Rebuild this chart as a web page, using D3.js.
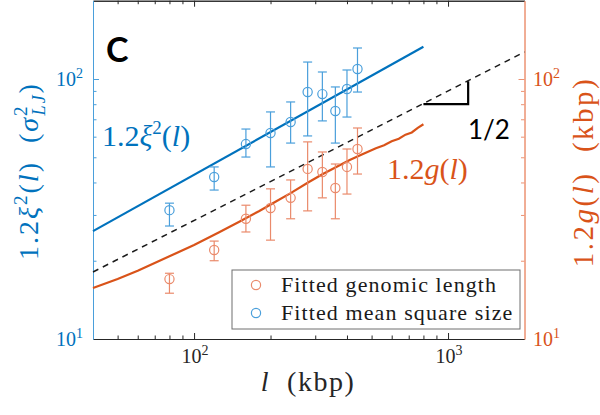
<!DOCTYPE html>
<html>
<head>
<meta charset="utf-8">
<script src="https://cdn.jsdelivr.net/npm/d3@7"></script>
<style>
  body { margin: 0; background: #fff; }
  text { white-space: pre; }
</style>
</head>
<body>
<script>
// variables:
var w = 600
var h = 415
var left = 93
var right = 524.5
var bottom = 339
var decadeY = 260

var blue = '#0072bd'
var orange = '#d95319'
var blueLight = '#4a9fdb'
var orangeLight = '#ea8a6b'
var serif = '"Liberation Serif"'
var sans = '"Lato"'

// data
var lengths = [80, 120, 160, 200, 240, 280, 320, 360, 400, 440]
var xiMean = [31.3, 42.0, 56.2, 62.0, 68.3, 89.1, 87.5, 75.3, 91.5, 109.3]
var xiLow = [27.2, 37.4, 50.1, 45.9, 56.7, 60.4, 69.0, 56.7, 71.4, 89.1]
var xiHigh = [33.3, 45.9, 64.2, 74.7, 81.6, 116.2, 106.4, 93.2, 108.3, 131.6]
var gMean = [17.0, 22.0, 29.0, 31.9, 34.9, 45.1, 43.9, 38.1, 45.9, 53.8]
var gLow = [15.0, 20.0, 25.8, 24.0, 29.0, 31.1, 34.9, 29.0, 36.1, 43.1]
var gHigh = [17.9, 23.8, 32.7, 37.8, 40.9, 57.3, 52.4, 47.1, 53.8, 64.8]

// fitted xi^2 line
var xiFitL = [40, 800]
var xiFitV = [26, 133]

// simulated g(l) curve
var gCurveL = [40, 50, 60, 80, 100, 125, 150, 180, 210, 240, 280, 320, 360, 410, 460, 520, 560, 600, 640, 680, 720, 760, 800]
var gCurveV = [15.7, 17.0, 18.3, 20.8, 23.0, 25.7, 28.2, 31.0, 33.8, 36.4, 39.9, 43.0, 45.7, 48.8, 51.4, 54.2, 55.6, 57.6, 58.9, 61.1, 62.3, 64.9, 67.0]

// slope 1/2 guide
var guideL = [40, 2000]
var guideV = [18.1, 127]
var triangle = [[800, 80], [1200, 80], [1200, 98]]

// ticks
var xMajor = [100, 1000]
var xMinor = [50, 60, 70, 80, 90, 200, 300, 400, 500, 600, 700, 800, 900]
var yMajor = [10, 100]
var yMinor = [20, 30, 40, 50, 60, 70, 80, 90]

var legendLabels = ['Fitted genomic length', 'Fitted mean square size']

var svg = d3.select('body')
  .append('svg')
  .attr('width', w)
  .attr('height', h)

var xScale = d3.scaleLog()
  .domain([40, 2000])
  .range([left, right])

var yScale = d3.scaleLog()
  .domain([10, 200])
  .range([bottom, bottom - decadeY * Math.log10(20)])

var plotTop = yScale.range()[1]

// helper: draw an inward axis with major + minor ticks
function drawAxis (axisFn, scale, pos, color, isX) {
  var majors = (isX ? xMajor : yMajor).filter(function (v) {
    return v > scale.domain()[0] && v < scale.domain()[1]
  })
  var g = svg.append('g')
    .attr('transform', isX ? 'translate(0,' + pos + ')' : 'translate(' + pos + ',0)')
  g.append('g').call(axisFn(scale).tickValues(majors).tickSizeInner(-6).tickSizeOuter(0).tickFormat(''))
  g.append('g').call(axisFn(scale).tickValues(isX ? xMinor : yMinor).tickSizeInner(-3.5).tickSizeOuter(0).tickFormat(''))
  g.selectAll('path, line').attr('stroke', color).attr('stroke-width', 1)
  return g
}

drawAxis(d3.axisBottom, xScale, bottom, '#262626', true)
drawAxis(d3.axisTop, xScale, plotTop, '#262626', true)
drawAxis(d3.axisLeft, yScale, left, '#4a9fdb', false)
drawAxis(d3.axisRight, yScale, right, '#ec9272', false)

// tick labels 10^n
function powLabel (sel, v, fs) {
  sel.append('tspan').text('10')
  sel.append('tspan').text(Math.round(Math.log10(v)))
    .attr('font-size', fs * 0.7)
    .attr('dy', -fs * 0.42)
}

xMajor.forEach(function (v) {
  svg.append('text')
    .style('font-family', serif)
    .attr('x', xScale(v) + 1)
    .attr('y', 363)
    .attr('text-anchor', 'middle')
    .attr('font-size', 20)
    .attr('fill', '#262626')
    .call(powLabel, v, 20)
})

yMajor.forEach(function (v) {
  svg.append('text')
    .style('font-family', serif)
    .attr('x', 83)
    .attr('y', yScale(v) + 7)
    .attr('text-anchor', 'end')
    .attr('font-size', 20)
    .attr('fill', blue)
    .call(powLabel, v, 20)
  svg.append('text')
    .style('font-family', serif)
    .attr('x', 533)
    .attr('y', yScale(v) + 7)
    .attr('font-size', 20)
    .attr('fill', orange)
    .call(powLabel, v, 20)
})

// lines
var line = d3.line()
  .x(function (d) { return xScale(d[0]) })
  .y(function (d) { return yScale(d[1]) })

svg.append('path')
  .datum(d3.zip(guideL, guideV))
  .attr('d', line)
  .attr('fill', 'none')
  .attr('stroke', '#1a1a1a')
  .attr('stroke-width', 1.5)
  .attr('stroke-dasharray', '6,5')

svg.append('path')
  .datum(d3.zip(xiFitL, xiFitV))
  .attr('d', line)
  .attr('fill', 'none')
  .attr('stroke', blue)
  .attr('stroke-width', 2.2)

svg.append('path')
  .datum(d3.zip(gCurveL, gCurveV))
  .attr('d', line)
  .attr('fill', 'none')
  .attr('stroke', orange)
  .attr('stroke-width', 2.2)

svg.append('path')
  .datum(triangle)
  .attr('d', line)
  .attr('fill', 'none')
  .attr('stroke', '#000')
  .attr('stroke-width', 2.2)

// error bars + markers
function drawSeries (mean, low, high, color) {
  var g = svg.append('g')
  var d = lengths.map(function (l, i) { return { l: l, m: mean[i], lo: low[i], hi: high[i] } })
  var cap = 4.5
  d.forEach(function (p) {
    var cx = xScale(p.l)
    g.append('line').attr('x1', cx).attr('x2', cx)
      .attr('y1', yScale(p.lo)).attr('y2', yScale(p.hi))
    g.append('line').attr('x1', cx - cap).attr('x2', cx + cap)
      .attr('y1', yScale(p.lo)).attr('y2', yScale(p.lo))
    g.append('line').attr('x1', cx - cap).attr('x2', cx + cap)
      .attr('y1', yScale(p.hi)).attr('y2', yScale(p.hi))
  })
  g.selectAll('line').attr('stroke', color).attr('stroke-width', 1.2)
  g.selectAll('circle')
    .data(d)
    .enter()
    .append('circle')
    .attr('cx', function (p) { return xScale(p.l) })
    .attr('cy', function (p) { return yScale(p.m) })
    .attr('r', 4.6)
    .attr('fill', 'none')
    .attr('stroke', color)
    .attr('stroke-width', 1.2)
}

drawSeries(xiMean, xiLow, xiHigh, blueLight)
drawSeries(gMean, gLow, gHigh, orangeLight)

// legend
var lg = svg.append('g')
lg.append('rect')
  .attr('x', 232).attr('y', 270)
  .attr('width', 288).attr('height', 59)
  .attr('fill', '#fff')
  .attr('stroke', '#6e6e6e')
  .attr('stroke-width', 1)
;[orangeLight, blueLight].forEach(function (c, i) {
  lg.append('circle')
    .attr('cx', 256).attr('cy', 285 + i * 28)
    .attr('r', 4.6)
    .attr('fill', 'none')
    .attr('stroke', c)
    .attr('stroke-width', 1.2)
  lg.append('text')
    .style('font-family', serif)
    .attr('x', 281).attr('y', 292 + i * 28)
    .attr('font-size', 22)
    .attr('letter-spacing', 1.1)
    .attr('fill', '#1a1a1a')
    .text(legendLabels[i])
})

// panel letter and annotations
svg.append('text')
  .style('font-family', sans)
  .attr('x', 106).attr('y', 62)
  .attr('font-weight', 'bold')
  .attr('font-size', 34)
  .attr('fill', '#000')
  .text('C')

svg.append('text')
  .style('font-family', sans)
  .attr('x', 489).attr('y', 139)
  .attr('text-anchor', 'middle')
  .attr('font-size', 26)
  .attr('fill', '#000')
  .text('1/2')

var xiLabel = svg.append('text')
  .style('font-family', serif)
  .attr('x', 102).attr('y', 146)
  .attr('font-size', 30)
  .attr('fill', blue)
xiLabel.append('tspan').text('1.2')
xiLabel.append('tspan').attr('font-style', 'italic').text('ξ')
xiLabel.append('tspan').attr('font-size', 19).attr('dy', -12).text('2')
xiLabel.append('tspan').attr('dy', 12).text('(')
xiLabel.append('tspan').attr('font-style', 'italic').text('l')
xiLabel.append('tspan').text(')')

var gLabel = svg.append('text')
  .style('font-family', serif)
  .attr('x', 387).attr('y', 179)
  .attr('font-size', 30)
  .attr('fill', orange)
gLabel.append('tspan').text('1.2')
gLabel.append('tspan').attr('font-style', 'italic').text('g')
gLabel.append('tspan').text('(')
gLabel.append('tspan').attr('font-style', 'italic').text('l')
gLabel.append('tspan').text(')')

// axis titles
var xTitle = svg.append('text')
  .style('font-family', serif)
  .attr('x', 308).attr('y', 391)
  .attr('text-anchor', 'middle')
  .attr('font-size', 28)
  .attr('letter-spacing', 1.5)
  .attr('fill', '#262626')
xTitle.append('tspan').attr('font-style', 'italic').text('l')
xTitle.append('tspan').text('  (kbp)')

var yTitle = svg.append('text')
  .style('font-family', serif)
  .attr('transform', 'translate(38,171) rotate(-90)')
  .attr('text-anchor', 'middle')
  .attr('font-size', 28)
  .attr('letter-spacing', 2)
  .attr('fill', blue)
yTitle.append('tspan').text('1.2')
yTitle.append('tspan').attr('font-style', 'italic').text('ξ')
yTitle.append('tspan').attr('font-size', 19).attr('dy', -11).text('2')
yTitle.append('tspan').attr('dy', 11).text('(')
yTitle.append('tspan').attr('font-style', 'italic').text('l')
yTitle.append('tspan').text(')  (')
yTitle.append('tspan').attr('font-style', 'italic').text('σ')
yTitle.append('tspan').attr('font-size', 19).attr('dy', -11).text('2')
yTitle.append('tspan').attr('font-size', 18).attr('font-style', 'italic').attr('dx', -11).attr('dy', 18).text('LJ')
yTitle.append('tspan').attr('dy', -7).text(')')

var gTitle = svg.append('text')
  .style('font-family', serif)
  .attr('transform', 'translate(593,172) rotate(-90)')
  .attr('text-anchor', 'middle')
  .attr('font-size', 29)
  .attr('letter-spacing', 2.5)
  .attr('fill', orange)
gTitle.append('tspan').text('1.2')
gTitle.append('tspan').attr('font-style', 'italic').text('g')
gTitle.append('tspan').text('(')
gTitle.append('tspan').attr('font-style', 'italic').text('l')
gTitle.append('tspan').text(')  (kbp)')
</script>
</body>
</html>
